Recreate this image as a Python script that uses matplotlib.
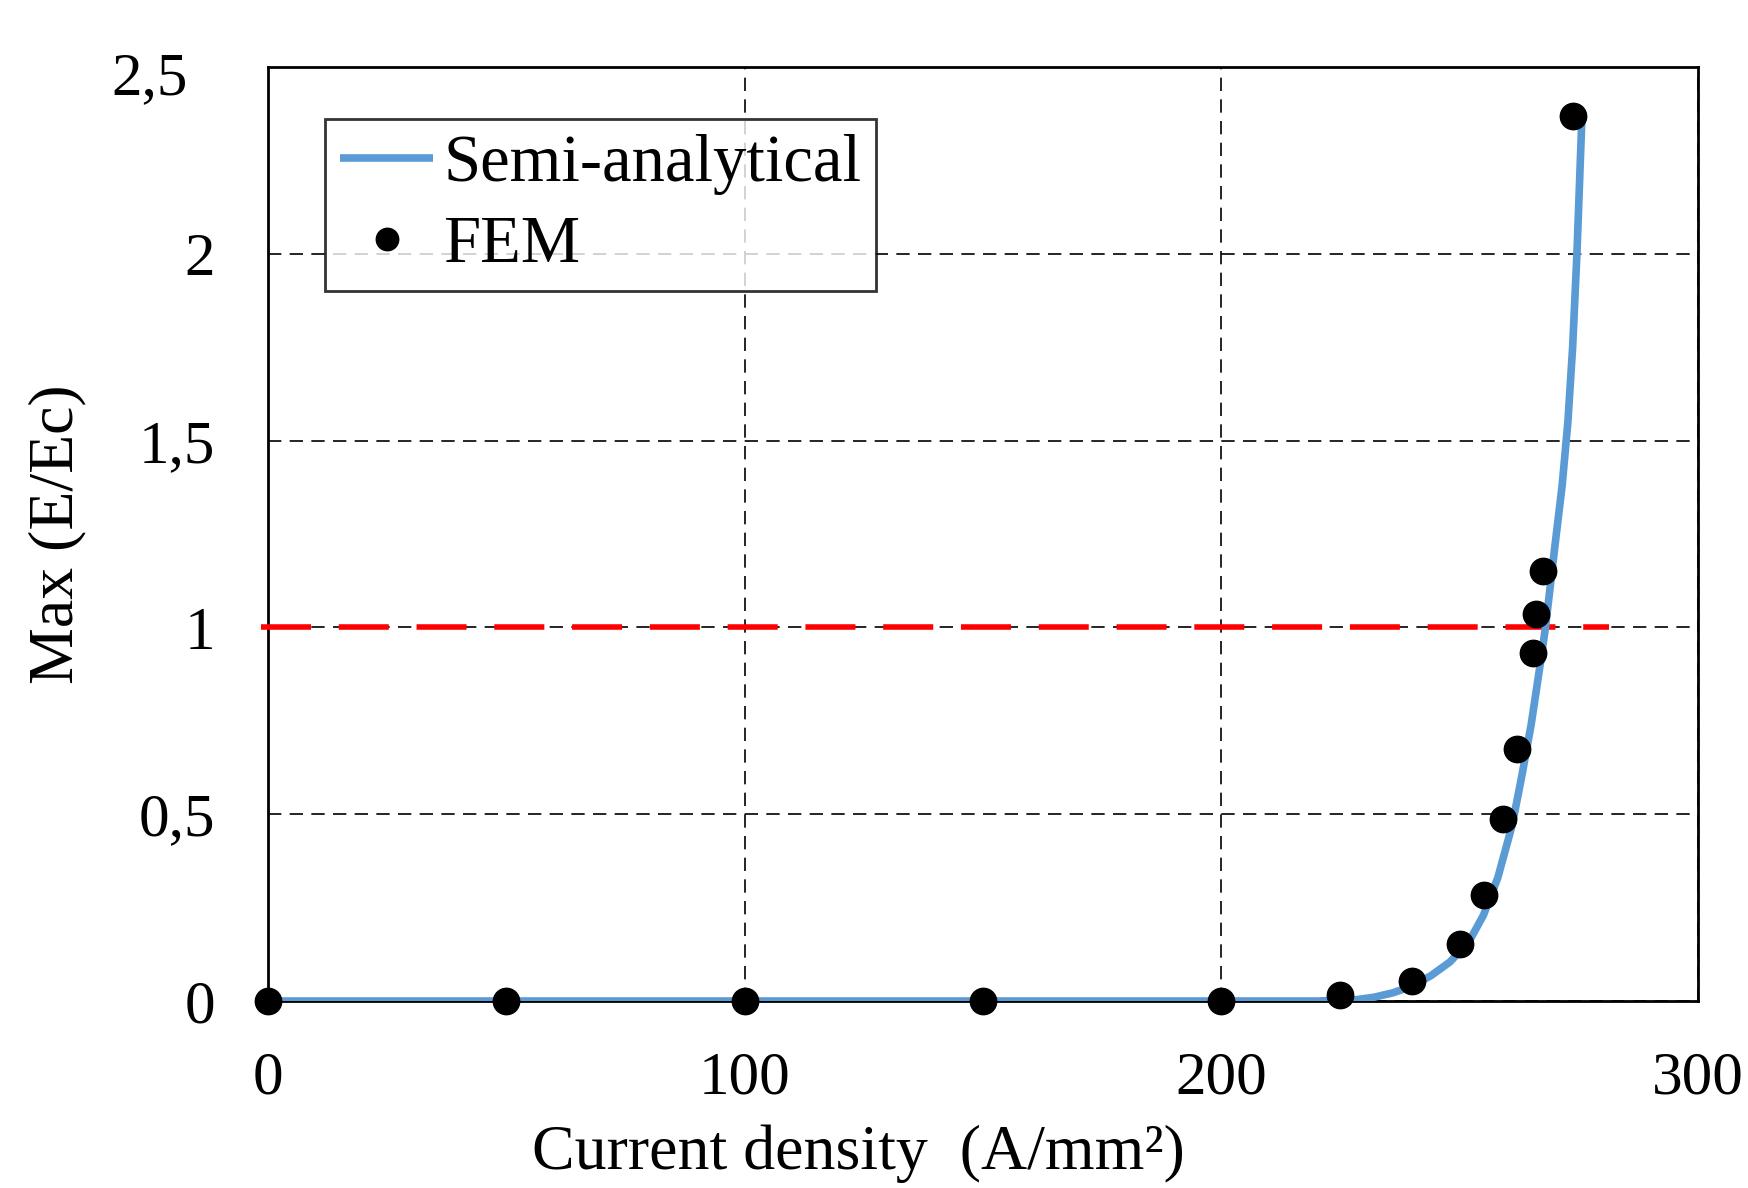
import numpy as np
import matplotlib.pyplot as plt
from matplotlib.ticker import FuncFormatter
from matplotlib.transforms import ScaledTranslation

plt.rcParams['font.family'] = ['Liberation Serif', 'DejaVu Serif']

# semi-analytical curve
curve_j = [0, 220, 228, 232, 236, 240, 244, 248, 252, 255, 258, 261, 263, 265, 267, 268,
           270, 271.5, 272.7, 273.7, 274.6, 275.6]
curve_e = [0, 0, 0.003, 0.01, 0.022, 0.04, 0.068, 0.105, 0.16, 0.23, 0.33, 0.47, 0.6, 0.74, 0.91, 1.0,
           1.22, 1.38, 1.55, 1.75, 2.0, 2.35]

# FEM points
fem_j = [0, 50, 100, 150, 200, 225, 240, 250, 255, 259, 262, 265.4, 266.1, 267.5, 273.8]
fem_e = [0, 0, 0, 0, 0, 0.015, 0.054, 0.152, 0.283, 0.486, 0.674, 0.931, 1.035, 1.152, 2.369]

# limit E = Ec
limit_j = [-1.5, 281.3]
limit_e = [1, 1]

xticks = [0, 100, 200, 300]
yticks = [0, 0.5, 1, 1.5, 2, 2.5]

fig = plt.figure(figsize=(17.48, 11.88), dpi=100)
ax = fig.add_axes([0.1533, 0.1574, 0.8181, 0.7862])

ax.plot(limit_j, limit_e, color='#ff0000', lw=4, linestyle=(0, (9, 5)), clip_on=False, zorder=3)
ax.plot(curve_j, curve_e, color='#5b9bd5', lw=5.5, label='Semi-analytical', zorder=4, solid_capstyle='butt')
ax.plot(fem_j, fem_e, 'o', color='black', ms=19, label='FEM', clip_on=False, zorder=5)

ax.set_xlim(0, 300)
ax.set_ylim(0, 2.5)
ax.set_xticks(xticks)
ax.set_yticks(yticks)

fmt = FuncFormatter(lambda v, p: ('%g' % v).replace('.', ','))
ax.xaxis.set_major_formatter(fmt)
ax.yaxis.set_major_formatter(fmt)
ax.tick_params(axis='both', length=0, labelsize=44)
ax.tick_params(axis='x', pad=36)
ax.tick_params(axis='y', pad=38)

# top label sits a bit further left in the original
top = ax.get_yticklabels()[-1]
top.set_transform(top.get_transform() + ScaledTranslation(-0.27, -0.06, fig.dpi_scale_trans))

ax.grid(True, color='black', lw=1.2, linestyle=(0, (8, 5)))
ax.set_axisbelow(True)
for s in ax.spines.values():
    s.set_linewidth(2)
    s.set_color('black')

ax.set_xlabel('Current density  (A/mm²)', fontsize=46)
ax.xaxis.set_label_coords(0.413, -0.132)
ax.set_ylabel('Max (E/Ec)', fontsize=46)
ax.yaxis.set_label_coords(-0.127, 0.5)

leg = ax.legend(loc='upper left', bbox_to_anchor=(0.04, 0.944), borderaxespad=0, fontsize=48,
                frameon=True, fancybox=False, edgecolor='black', handlelength=1.4, handletextpad=0.15,
                borderpad=0.22, labelspacing=0.3, markerscale=0.85)
leg.get_frame().set_linewidth(2)

fig.savefig('out.png', dpi=100)
